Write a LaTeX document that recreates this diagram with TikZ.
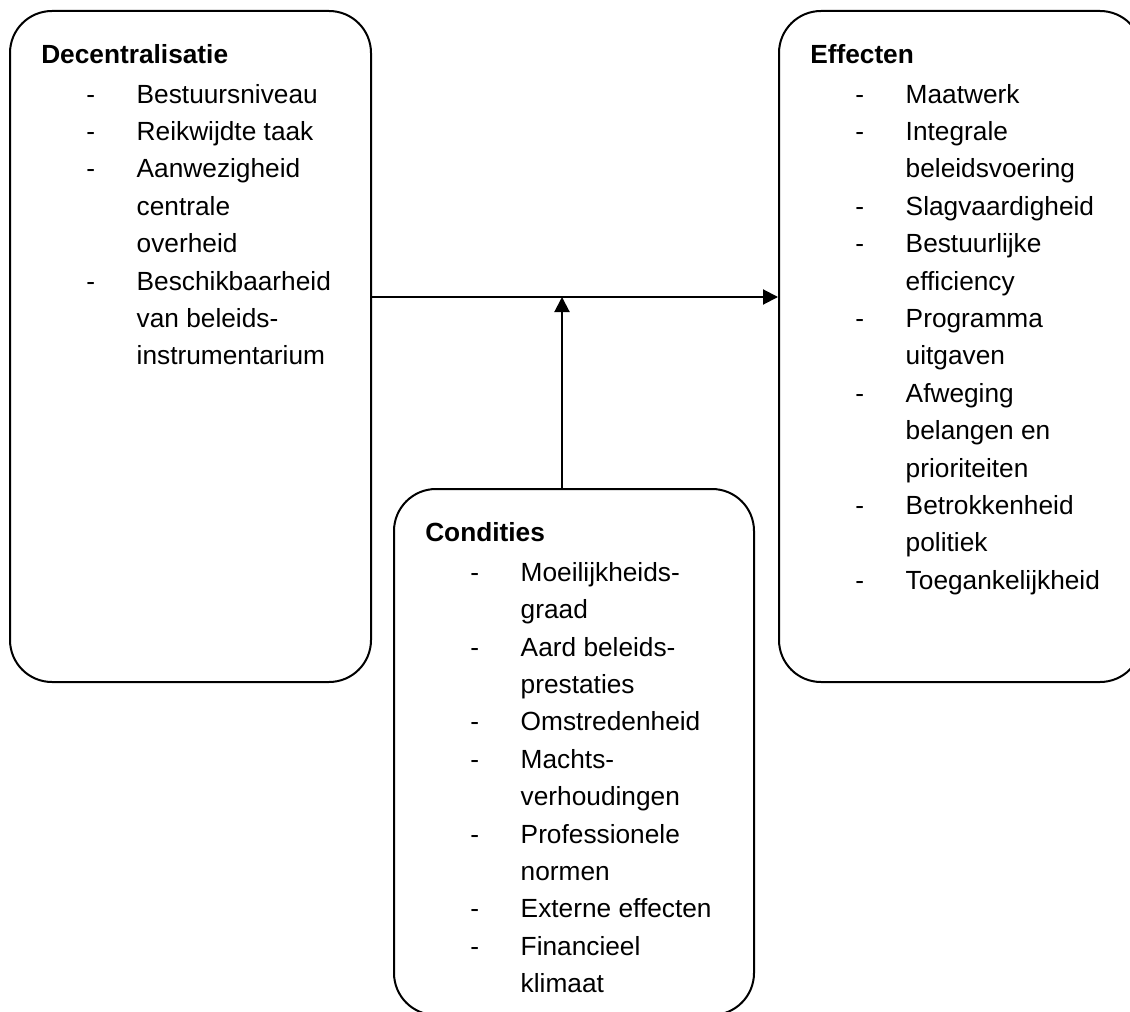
\documentclass[tikz,border=0pt]{standalone}
\usepackage{fontspec}
\setmainfont{Liberation Sans}
\usetikzlibrary{arrows.meta}

% list helpers: a dash in the bullet column, or an empty bullet column
\newcommand\dashitem{\makebox[71.6pt][l]{\hspace*{33.75pt}-}}
\newcommand\contitem{\makebox[71.6pt][l]{}}

\begin{document}
\begin{tikzpicture}[x=0.75pt,y=-0.75pt,
  panel/.style={draw, line width=1.5pt, rounded corners=31.5pt, rectangle,
    inner sep=0pt, minimum width=270.75pt, minimum height=503.25pt,
    anchor=north west},
  list/.style={anchor=base west, inner sep=0pt,
    font=\fontsize{19.7pt}{28.05pt}\selectfont},
  link/.style={line width=1.5pt, -{Triangle[length=11.25pt,width=11.25pt]}}]
\useasboundingbox (0,0) rectangle (1130,1012);

% the three panels
\node[panel] (dec) at (9,10) {};
\node[panel, minimum width=272.25pt] (eff) at (778,10) {};
\node[panel, minimum width=270pt, minimum height=394.5pt] (con) at (393,488) {};

% panel contents
\node[list] (dectext) at (41,63.5) {\begin{tabular}[t]{@{}l@{}}
\textbf{Decentralisatie}\\[1.7pt]
\dashitem Bestuursniveau\\
\dashitem Reikwijdte taak\\
\dashitem Aanwezigheid\\
\contitem centrale\\
\contitem overheid\\
\dashitem Beschikbaarheid\\
\contitem van beleids-\\
\contitem instrumentarium
\end{tabular}};

\node[list] (efftext) at (810,63.5) {\begin{tabular}[t]{@{}l@{}}
\textbf{Effecten}\\[1.7pt]
\dashitem Maatwerk\\
\dashitem Integrale\\
\contitem beleidsvoering\\
\dashitem Slagvaardigheid\\
\dashitem Bestuurlijke\\
\contitem efficiency\\
\dashitem Programma\\
\contitem uitgaven\\
\dashitem Afweging\\
\contitem belangen en\\
\contitem prioriteiten\\
\dashitem Betrokkenheid\\
\contitem politiek\\
\dashitem Toegankelijkheid
\end{tabular}};

\node[list] (context) at (425,541.7) {\begin{tabular}[t]{@{}l@{}}
\textbf{Condities}\\[1.7pt]
\dashitem Moeilijkheids-\\
\contitem graad\\
\dashitem Aard beleids-\\
\contitem prestaties\\
\dashitem Omstredenheid\\
\dashitem Machts-\\
\contitem verhoudingen\\
\dashitem Professionele\\
\contitem normen\\
\dashitem Externe effecten\\
\dashitem Financieel\\
\contitem klimaat
\end{tabular}};

% connectors
\coordinate (J) at (562,297);
\draw[link] (dec.east |- J) -- (eff.west |- J);
\draw[link] (con.north -| J) -- (J);
\end{tikzpicture}
\end{document}
